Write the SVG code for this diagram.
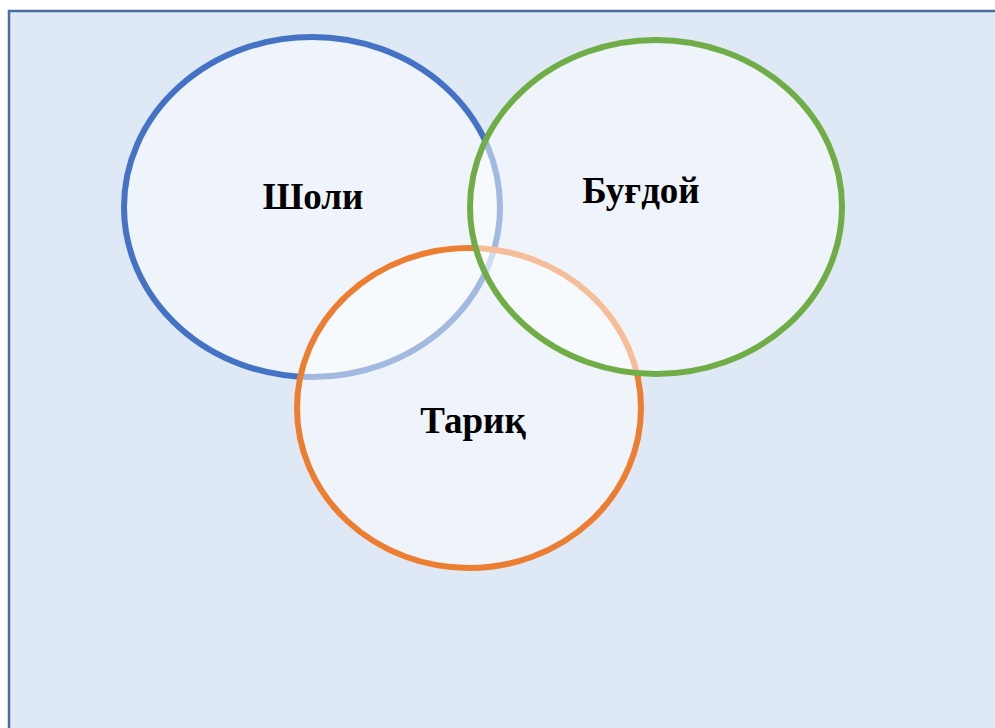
<svg xmlns="http://www.w3.org/2000/svg" width="995" height="728" viewBox="0 0 995 728">
<style>
.bg{fill:#dee9f5;stroke:#4a6f9e;stroke-width:2.5}
.c{fill:#ffffff;fill-opacity:0.5;stroke-width:6}
.t{font-family:"Liberation Serif","Times New Roman",serif;font-weight:bold;font-size:37px;fill:#000;text-anchor:middle}
</style>
<rect class="bg" x="9" y="11" width="992" height="724"/>
<g id="sholi">
<ellipse class="c" cx="312" cy="207" rx="188" ry="170" stroke="#4472c4"/>
</g>
<g id="tariq">
<ellipse class="c" cx="469" cy="408" rx="172" ry="160" stroke="#ed7d31"/>
</g>
<g id="bugdoi">
<ellipse class="c" cx="656" cy="207" rx="186" ry="167" stroke="#70ad47"/>
</g>
<g id="labels">
<text class="t" x="313" y="209">Шоли</text>
<text class="t" x="641" y="203">Буғдой</text>
<text class="t" x="473" y="433">Тариқ</text>
</g>
</svg>
